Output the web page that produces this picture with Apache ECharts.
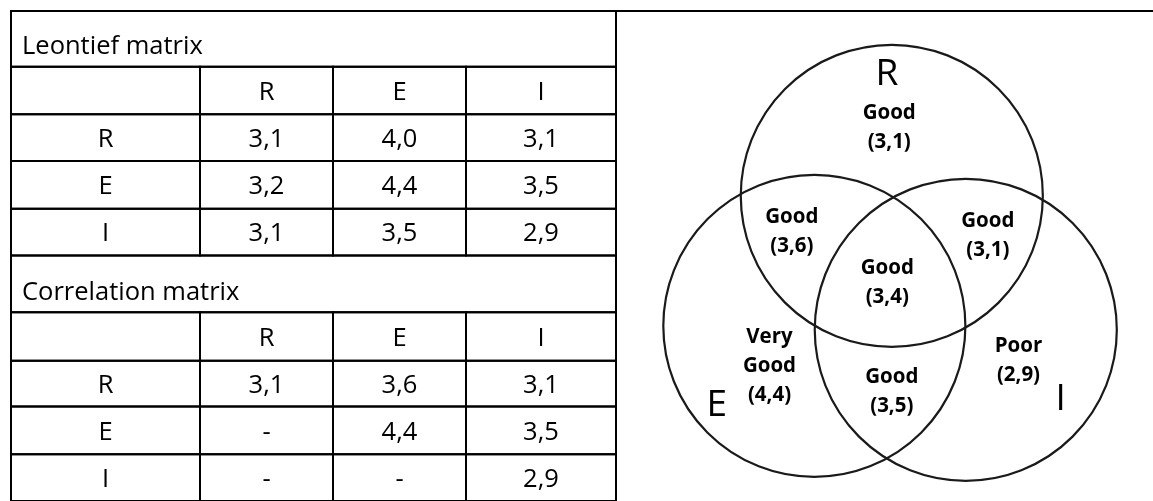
<!DOCTYPE html>
<html><head><meta charset="utf-8">
<script src="https://cdn.jsdelivr.net/npm/echarts@6/dist/echarts.min.js"></script>
<style>html,body{margin:0;padding:0;background:#fff}#c{width:1153px;height:501px}</style>
</head><body><div id="c"></div>
<script>
// ---------------- DATA ----------------
const matrixCols = ['R', 'E', 'I'];
const matrixRows = ['R', 'E', 'I'];
const leontiefTitle = 'Leontief matrix';
const leontiefValues = [
  [3.1, 4.0, 3.1],
  [3.2, 4.4, 3.5],
  [3.1, 3.5, 2.9]
];
const correlationTitle = 'Correlation matrix';
const correlationValues = [
  [3.1, 3.6, 3.1],
  [null, 4.4, 3.5],
  [null, null, 2.9]
];
const vennSets = ['R', 'E', 'I'];
const regionSets = [['R'], ['R', 'E'], ['R', 'I'], ['R', 'E', 'I'], ['E'], ['E', 'I'], ['I']];
const regionRatings = ['Good', 'Good', 'Good', 'Good', 'Very\nGood', 'Good', 'Poor'];
const regionScores = [3.1, 3.6, 3.1, 3.4, 4.4, 3.5, 2.9];

// ---------------- LAYOUT (not data) ----------------
const colEdges = [0, 189, 322, 455, 605];
const rowEdges = [0, 56, 104, 151, 199, 246, 303, 352, 398, 446, 493];
// Venn layout in circle-radius units
const setCenters = { R: [0, 0], E: [-0.513, 0.861], I: [0.49, 0.887] };
const setLabelPos = { R: [-0.033, -0.8], E: [-1.159, 1.39], I: [1.119, 1.35] };
const regionPos = [[-0.017, -0.454], [-0.662, 0.238], [0.636, 0.265], [-0.03, 0.576], [-0.81, 1.126], [0, 1.298], [0.839, 1.093]];

const FONT = '"Open Sans", "Liberation Sans", sans-serif';
const fmt = v => v == null ? '-' : v.toFixed(1).replace('.', ',');

// Build table cells
const cells = [];
function addMatrix(startRow, title, values) {
  cells.push({ c0: 0, c1: 4, r: startRow, text: title, kind: 'title' });
  cells.push({ c0: 0, c1: 1, r: startRow + 1, text: '', kind: 'cell' });
  matrixCols.forEach((c, j) => cells.push({ c0: j + 1, c1: j + 2, r: startRow + 1, text: c, kind: 'cell' }));
  matrixRows.forEach((rn, i) => {
    cells.push({ c0: 0, c1: 1, r: startRow + 2 + i, text: rn, kind: 'cell' });
    values[i].forEach((v, j) => cells.push({ c0: j + 1, c1: j + 2, r: startRow + 2 + i, text: fmt(v), kind: 'cell' }));
  });
}
addMatrix(0, leontiefTitle, leontiefValues);
addMatrix(5, correlationTitle, correlationValues);
const cellData = cells.map(c => [colEdges[c.c0], colEdges[c.c1], rowEdges[c.r], rowEdges[c.r + 1]]);

const chart = echarts.init(document.getElementById('c'), null, { renderer: 'canvas' });
const hiddenAxis = { show: false, splitLine: { show: false } };

chart.setOption({
  animation: false,
  backgroundColor: '#fff',
  grid: [
    { left: 11, top: 11, width: 605, height: 493 },
    { left: 617, top: 13, right: 0, bottom: 0 }
  ],
  xAxis: [
    Object.assign({ type: 'value', gridIndex: 0, min: 0, max: 605 }, hiddenAxis),
    Object.assign({ type: 'value', gridIndex: 1, min: -1.82, max: 1.73 }, hiddenAxis)
  ],
  yAxis: [
    Object.assign({ type: 'value', gridIndex: 0, min: 0, max: 493, inverse: true }, hiddenAxis),
    Object.assign({ type: 'value', gridIndex: 1, min: -1.21, max: 2.02, inverse: true }, hiddenAxis)
  ],
  series: [
    {
      type: 'custom', xAxisIndex: 0, yAxisIndex: 0, clip: false,
      data: cellData,
      encode: { x: [0, 1], y: [2, 3] },
      renderItem: function (params, api) {
        const c = cells[params.dataIndex];
        const p0 = api.coord([api.value(0), api.value(2)]);
        const p1 = api.coord([api.value(1), api.value(3)]);
        const children = [{
          type: 'rect', silent: true,
          shape: { x: p0[0], y: p0[1], width: p1[0] - p0[0], height: p1[1] - p0[1] },
          style: { fill: 'transparent', stroke: '#000', lineWidth: 2 }
        }];
        if (params.dataIndex === 0) {
          children.push({
            type: 'line', silent: true,
            shape: { x1: p0[0], y1: p0[1], x2: api.getWidth(), y2: p0[1] },
            style: { stroke: '#000', lineWidth: 2 }
          });
        }
        if (c.text) {
          const isTitle = c.kind === 'title';
          children.push({
            type: 'text', silent: true,
            x: isTitle ? p0[0] + 11 : (p0[0] + p1[0]) / 2,
            y: isTitle ? p1[1] - 19.5 : (p0[1] + p1[1]) / 2 + 2,
            style: {
              text: c.text, fill: '#000', fontFamily: FONT, fontSize: 25.5,
              align: isTitle ? 'left' : 'center', verticalAlign: 'middle'
            }
          });
        }
        return { type: 'group', children };
      }
    },
    {
      type: 'custom', xAxisIndex: 1, yAxisIndex: 1, clip: false,
      data: vennSets.map(s => setCenters[s].concat([1])),
      renderItem: function (params, api) {
        const ctr = api.coord([api.value(0), api.value(1)]);
        const r = api.size([api.value(2), api.value(2)]);
        return {
          type: 'circle', silent: true,
          shape: { cx: ctr[0], cy: ctr[1], r: (r[0] + r[1]) / 2 },
          style: { fill: 'transparent', stroke: '#1a1a1a', lineWidth: 2.2 }
        };
      }
    },
    {
      type: 'custom', xAxisIndex: 1, yAxisIndex: 1, clip: false,
      data: vennSets.map(s => setLabelPos[s]),
      renderItem: function (params, api) {
        const p = api.coord([api.value(0), api.value(1)]);
        return {
          type: 'text', silent: true, x: p[0], y: p[1],
          style: { text: vennSets[params.dataIndex], fill: '#000', fontFamily: FONT, fontSize: 37, align: 'center', verticalAlign: 'middle' }
        };
      }
    },
    {
      type: 'custom', xAxisIndex: 1, yAxisIndex: 1, clip: false,
      data: regionPos,
      renderItem: function (params, api) {
        const i = params.dataIndex;
        const p = api.coord([api.value(0), api.value(1)]);
        return {
          type: 'text', silent: true, x: p[0], y: p[1],
          style: {
            text: regionRatings[i] + '\n(' + fmt(regionScores[i]) + ')',
            fill: '#000', fontFamily: FONT, fontWeight: 'bold', fontSize: 20.5, lineHeight: 29,
            align: 'center', verticalAlign: 'middle'
          }
        };
      }
    }
  ]
});
</script>
</body></html>
